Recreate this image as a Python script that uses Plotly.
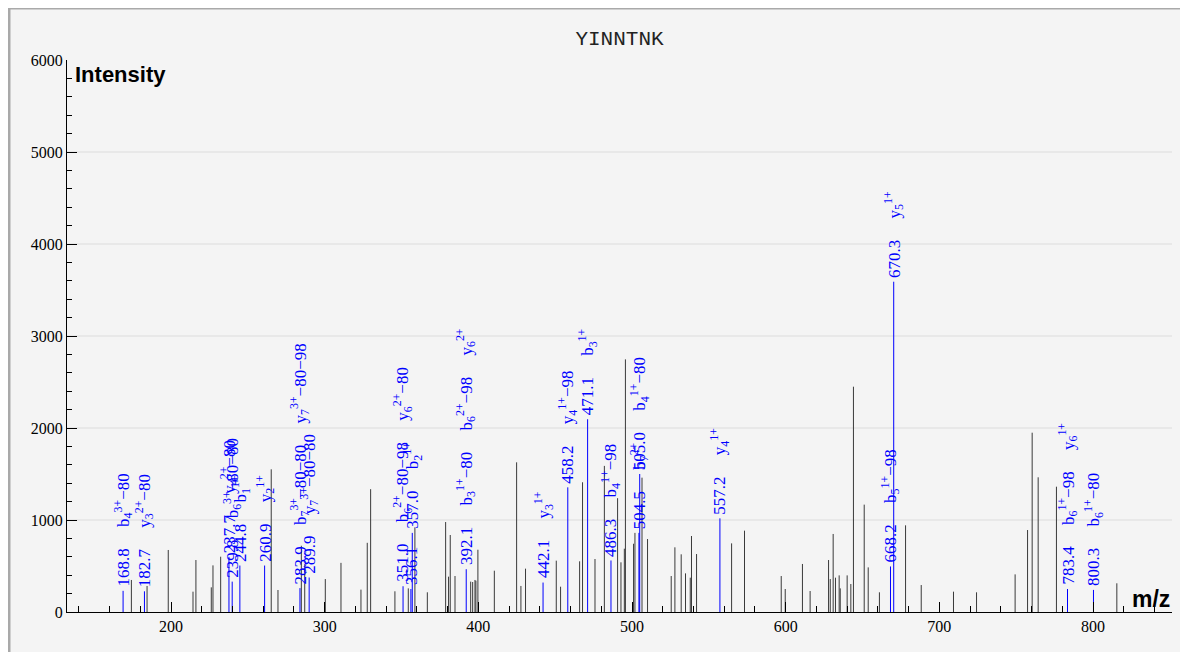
import plotly.graph_objects as go

title_text = "YINNTNK"
x_label = "m/z"
y_label = "Intensity"

# unannotated peaks (m/z, intensity)
peak_mz = [174.2, 184.4, 198.2, 214.3, 216.2, 226.2, 227.3, 232.3, 265.2, 269.6,
           284.8, 287.0, 300.4, 310.6, 323.6, 327.7, 329.9, 345.7, 354.4, 358.7,
           366.8, 378.7, 380.6, 381.7, 384.8, 395.0, 396.3, 397.8, 398.4, 399.7,
           410.4, 424.9, 427.7, 430.7, 450.7, 453.5, 465.9, 467.8, 475.9, 482.0,
           490.6, 492.8, 495.0, 495.7, 501.0, 501.9, 506.5, 510.1, 525.5, 527.9,
           532.0, 534.8, 537.9, 538.7, 542.0, 564.8, 573.2, 597.1, 599.7, 610.9,
           615.9, 627.9, 629.0, 630.9, 632.4, 634.8, 635.5, 640.0, 642.4, 644.1,
           651.1, 653.7, 661.0, 678.0, 688.2, 709.2, 724.2, 749.3, 757.4, 760.4,
           764.3, 776.2, 815.5]
peak_int = [348, 283, 674, 221, 565, 268, 507, 601, 1551, 239,
            720, 520, 358, 534, 243, 752, 1335, 225, 257, 920,
            214, 978, 384, 837, 391, 330, 326, 348, 340, 677,
            449, 1627, 283, 471, 558, 275, 551, 1410, 576, 1588,
            1237, 540, 688, 2746, 742, 860, 1460, 793, 391, 703,
            627, 420, 373, 826, 630, 746, 884, 391, 250, 522,
            228, 565, 358, 848, 373, 398, 257, 398, 304, 2449,
            1167, 485, 214, 942, 293, 221, 214, 409, 891, 1949,
            1464, 1362, 312]

# annotated (matched) peaks
ion_mz = [168.8, 182.7, 237.7, 239.8, 244.8, 260.9, 283.9, 289.9, 351.0, 356.1,
          357.0, 392.1, 442.1, 458.2, 471.1, 486.3, 504.5, 505.0, 557.2, 668.2,
          670.3, 783.4, 800.3]
ion_int = [230, 225, 600, 330, 505, 505, 260, 375, 280, 250,
           860, 465, 320, 1355, 2095, 560, 860, 1500, 1018, 495,
           3590, 250, 240]
ion_labels = [
    ["b<sub>4</sub><sup>3+</sup>\u221280"],
    ["y<sub>3</sub><sup>2+</sup>\u221280"],
    ["y<sub>4</sub><sup>2+</sup>\u221280"],
    ["b<sub>6</sub><sup>3+</sup>\u221280\u221280"],
    ["b<sub>1</sub><sup>1+</sup>"],
    ["y<sub>2</sub><sup>1+</sup>"],
    ["b<sub>7</sub><sup>3+</sup>\u221280\u221280", "y<sub>7</sub><sup>3+</sup>\u221280\u221298"],
    ["y<sub>7</sub><sup>3+</sup>\u221280\u221280"],
    ["b<sub>6</sub><sup>2+</sup>\u221280\u221298", "y<sub>6</sub><sup>2+</sup>\u221280"],
    [],
    ["b<sub>2</sub><sup>1+</sup>"],
    ["b<sub>3</sub><sup>1+</sup>\u221280", "b<sub>6</sub><sup>2+</sup>\u221298", "y<sub>6</sub><sup>2+</sup>"],
    ["y<sub>3</sub><sup>1+</sup>"],
    ["y<sub>4</sub><sup>1+</sup>\u221298"],
    ["b<sub>3</sub><sup>1+</sup>"],
    ["b<sub>4</sub><sup>1+</sup>\u221298"],
    ["b<sub>7</sub><sup>2+</sup>"],
    ["b<sub>4</sub><sup>1+</sup>\u221280"],
    ["y<sub>4</sub><sup>1+</sup>"],
    ["b<sub>5</sub><sup>1+</sup>\u221298"],
    ["y<sub>5</sub><sup>1+</sup>"],
    ["b<sub>6</sub><sup>1+</sup>\u221298", "y<sub>6</sub><sup>1+</sup>"],
    ["b<sub>6</sub><sup>1+</sup>\u221280"],
]

y_grid = [1000, 2000, 3000, 4000, 5000]
x_range = [132.3, 851.4]
y_range = [0, 6000]


def stems(xs, ys):
    X, Y = [], []
    for x, y in zip(xs, ys):
        X += [x, x, None]
        Y += [0, y, None]
    return X, Y


fig = go.Figure()
sx, sy = stems(peak_mz, peak_int)
fig.add_trace(go.Scatter(x=sx, y=sy, mode="lines", line=dict(color="#3a3a3a", width=1),
                         hoverinfo="skip", showlegend=False))
bx, by = stems(ion_mz, ion_int)
fig.add_trace(go.Scatter(x=bx, y=by, mode="lines", line=dict(color="#0000ff", width=1),
                         hoverinfo="skip", showlegend=False))

GAP = "\u00a0" * 5
for mz, inten, labs in zip(ion_mz, ion_int, ion_labels):
    text = f"{mz:.1f}" + "".join(GAP + l for l in labs)
    fig.add_annotation(x=mz, y=inten, text=text, textangle=-90, showarrow=False,
                       xanchor="center", yanchor="bottom", yshift=2,
                       font=dict(family="Liberation Serif", size=17, color="#0000ff"))

# frame
fig.add_shape(type="rect", xref="paper", yref="paper", x0=-0.0525, x1=1.0127, y0=-0.12, y1=1.094,
              line=dict(color="#a9a9a9", width=3), fillcolor="#f4f4f4", layer="below")
for g in y_grid:
    fig.add_shape(type="line", xref="paper", yref="y", x0=0, x1=1, y0=g, y1=g,
                  line=dict(color="#dcdcdc", width=1), layer="below")

fig.add_annotation(xref="paper", yref="paper", x=0.005, y=1.0, xanchor="left", yanchor="top",
                   text=y_label, showarrow=False,
                   font=dict(family="Liberation Sans", size=22, color="black", weight="bold"))
fig.add_annotation(xref="paper", yref="paper", x=1.0, y=0.0, xanchor="right", yanchor="bottom",
                   text=x_label, showarrow=False, yshift=-2,
                   font=dict(family="Liberation Sans", size=23, color="black", weight="bold"))

fig.update_layout(
    width=1180, height=644,
    margin=dict(l=59, r=16, t=52, b=40),
    paper_bgcolor="white", plot_bgcolor="rgba(0,0,0,0)",
    title=dict(text=title_text, x=(619.5 - 8) / 1180, xanchor="center", y=1 - 30 / 644,
               yanchor="middle",
               font=dict(family="Liberation Mono", size=21, color="#222")),
    xaxis=dict(range=x_range, showline=True, linecolor="black", linewidth=1,
               ticks="inside", ticklen=10, tickcolor="black", dtick=100, tick0=0,
               minor=dict(ticks="inside", ticklen=6, dtick=20, tick0=0, tickcolor="black"),
               showgrid=False, zeroline=False,
               tickfont=dict(family="Liberation Serif", size=16, color="black")),
    yaxis=dict(range=y_range, showline=True, linecolor="black", linewidth=1,
               ticks="inside", ticklen=10, tickcolor="black", dtick=1000, tick0=0,
               minor=dict(ticks="inside", ticklen=5, dtick=200, tick0=0, tickcolor="black"),
               showgrid=False, zeroline=False,
               tickfont=dict(family="Liberation Serif", size=16, color="black")),
)

fig.write_html("out.html")
